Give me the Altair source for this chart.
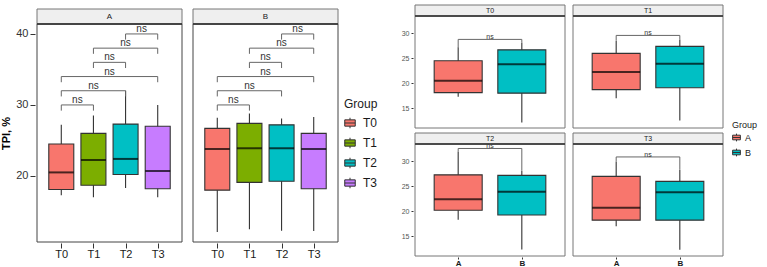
import altair as alt
import pandas as pd

# ---------------- data ----------------
times = ["T0", "T1", "T2", "T3"]
groups = ["A", "B"]
time_colors = ["#F8766D", "#7CAE00", "#00BFC4", "#C77CFF"]
group_colors = ["#F8766D", "#00BFC4"]

# box statistics per time (T0..T3) for group A and group B
a_lower = [17.3, 17.0, 18.3, 17.0]
a_q1 = [18.1, 18.7, 20.2, 18.2]
a_median = [20.5, 22.25, 22.4, 20.7]
a_q3 = [24.5, 26.0, 27.3, 27.0]
a_upper = [27.2, 28.5, 32.0, 30.0]

b_lower = [12.1, 12.5, 12.3, 12.25]
b_q1 = [18.0, 19.1, 19.25, 18.2]
b_median = [23.8, 23.9, 23.9, 23.8]
b_q3 = [26.7, 27.4, 27.2, 26.0]
b_upper = [28.2, 28.8, 28.1, 28.3]

# pairwise comparisons between times (left chart)
pair_start = ["T0", "T0", "T0", "T1", "T1", "T2"]
pair_end = ["T1", "T2", "T3", "T2", "T3", "T3"]
pair_level = [30, 32, 34, 36, 38, 40]
pair_label = ["ns", "ns", "ns", "ns", "ns", "ns"]

# A vs B comparison inside each time (right chart)
ab_level = [28.8, 29.6, 32.6, 30.9]
ab_label = ["ns", "ns", "ns", "ns"]

# ---------------- tables ----------------
stats = {
    "A": (a_lower, a_q1, a_median, a_q3, a_upper),
    "B": (b_lower, b_q1, b_median, b_q3, b_upper),
}
box_rows = []
for g in groups:
    lo, q1, md, q3, up = stats[g]
    for i, t in enumerate(times):
        box_rows.append(dict(group=g, time=t, ti=i + 1, gi=groups.index(g) + 1,
                             lower=lo[i], q1=q1[i], median=md[i], q3=q3[i], upper=up[i]))

LEG = 0.8
left_rows = []
for r in box_rows:
    left_rows.append(dict(kind="box", panel=r["group"], x=r["ti"], time=r["time"],
                          lower=r["lower"], q1=r["q1"], median=r["median"], q3=r["q3"], upper=r["upper"]))
for g in groups:
    left_rows.append(dict(kind="strip", panel=g))
    for s, e, lev, lab in zip(pair_start, pair_end, pair_level, pair_label):
        xs, xe = times.index(s) + 1, times.index(e) + 1
        left_rows.append(dict(kind="hbar", panel=g, x=xs, x2=xe, y=lev))
        left_rows.append(dict(kind="leg", panel=g, x=xs, y=lev, y2=lev - LEG))
        left_rows.append(dict(kind="leg", panel=g, x=xe, y=lev, y2=lev - LEG))
        left_rows.append(dict(kind="lab", panel=g, x=(xs + xe) / 2, y=lev, text=lab))
left_df = pd.DataFrame(left_rows)

right_rows = []
for r in box_rows:
    right_rows.append(dict(kind="box", panel=r["time"], x=r["gi"], group=r["group"],
                           lower=r["lower"], q1=r["q1"], median=r["median"], q3=r["q3"], upper=r["upper"]))
for i, t in enumerate(times):
    right_rows.append(dict(kind="strip", panel=t))
    lev = ab_level[i]
    right_rows.append(dict(kind="hbar", panel=t, x=1, x2=2, y=lev))
    for gi, g in enumerate(groups):
        right_rows.append(dict(kind="leg", panel=t, x=gi + 1, y=lev, y2=stats[g][4][i]))
    right_rows.append(dict(kind="lab", panel=t, x=1.5, y=lev, text=ab_label[i]))
right_df = pd.DataFrame(right_rows)
# wrap the four time panels into a 2 x 2 grid
right_df["prow"] = right_df["panel"].map(lambda p: times.index(p) // 2)
right_df["pcol"] = right_df["panel"].map(lambda p: times.index(p) % 2)

FONT = "Liberation Sans"
BOX_PATH = "M-1,-0.6L1,-0.6L1,0.6L-1,0.6Z M-1,0L1,0 M0,-0.6L0,-1 M0,0.6L0,1"


def label_expr(cats):
    arr = "[" + ",".join("'%s'" % c for c in cats) + "]"
    return arr + "[datum.value - 1]"


def build(cats, color_field, color_dom, color_rng, W, H, top_off, strip_h, box_w,
          ydom, yvals, ytitle, tick_fs, xlab_fs, strip_fs, ns_fs, ns_dy,
          border_color, legend, tick_color, xlab_weight, xlab_pad, tick_len):
    # the cell holds the strip (top) and the panel (below it)
    panel_top = top_off + strip_h
    xs = alt.Scale(domain=[0.4, len(cats) + 0.6], nice=False, zero=False)
    ys = alt.Scale(domain=ydom, nice=False, zero=False, range=[H, panel_top])
    xax = alt.Axis(values=list(range(1, len(cats) + 1)), labelExpr=label_expr(cats),
                   title=None, grid=False, domain=False, tickColor="#333333", tickSize=tick_len,
                   labelFont=FONT, labelFontSize=xlab_fs, labelColor="#1a1a1a",
                   labelPadding=xlab_pad, labelFontWeight=xlab_weight)
    yax = alt.Axis(values=yvals, grid=False, domain=False, tickColor="#333333", tickSize=tick_len,
                   labelFont=FONT, labelFontSize=tick_fs, labelColor=tick_color, labelPadding=2,
                   titleFont=FONT, titleFontSize=11, titleFontWeight="bold", titleColor="#000000",
                   titlePadding=4)
    X = alt.X("x:Q", scale=xs, axis=xax)

    def Y(f):
        return alt.Y(f + ":Q", scale=ys, axis=yax, title=ytitle)

    base = alt.Chart()
    whisk = base.mark_rule(color="#333333", strokeWidth=1.1).encode(
        x=X, y=Y("lower"), y2="upper:Q").transform_filter("datum.kind == 'box'")
    box = base.mark_bar(size=box_w, stroke="#333333", strokeWidth=1.1).encode(
        x=X, y=Y("q1"), y2="q3:Q",
        color=alt.Color(color_field + ":N", scale=alt.Scale(domain=color_dom, range=color_rng),
                        legend=legend)).transform_filter("datum.kind == 'box'")
    med = base.mark_tick(color="#000000", thickness=2, size=box_w, orient="horizontal").encode(
        x=X, y=Y("median")).transform_filter("datum.kind == 'box'")
    hbar = base.mark_rule(color="#666666", strokeWidth=1).encode(
        x=X, x2="x2:Q", y=Y("y")).transform_filter("datum.kind == 'hbar'")
    legs = base.mark_rule(color="#666666", strokeWidth=1).encode(
        x=X, y=Y("y"), y2="y2:Q").transform_filter("datum.kind == 'leg'")
    labs = base.mark_text(font=FONT, fontSize=ns_fs, color="#333333", baseline="bottom",
                          dy=ns_dy).encode(
        x=X, y=Y("y"), text="text:N").transform_filter("datum.kind == 'lab'")
    strip = base.mark_rect(fill="#EFEFEF", stroke="#777777", strokeWidth=1).encode(
        x=alt.value(0), x2=alt.value(W), y=alt.value(top_off), y2=alt.value(panel_top)
    ).transform_filter("datum.kind == 'strip'")
    border = base.mark_rect(fillOpacity=0, stroke=border_color, strokeWidth=1).encode(
        x=alt.value(0), x2=alt.value(W), y=alt.value(panel_top), y2=alt.value(H)
    ).transform_filter("datum.kind == 'strip'")
    strip_line = base.mark_rule(color="#333333", strokeWidth=1.5).encode(
        x=alt.value(0), x2=alt.value(W), y=alt.value(panel_top)
    ).transform_filter("datum.kind == 'strip'")
    strip_txt = base.mark_text(font=FONT, fontSize=strip_fs, color="#1a1a1a").encode(
        x=alt.value(W / 2), y=alt.value(top_off + strip_h / 2), text="panel:N"
    ).transform_filter("datum.kind == 'strip'")
    return alt.layer(whisk, box, med, hbar, legs, labs, strip, border, strip_line,
                     strip_txt).properties(
        width=W, height=H, view=alt.ViewBackground(stroke="transparent", fill="transparent"))


NOHEAD = alt.Header(labels=False, labelPadding=0, titlePadding=0)

left_legend = alt.Legend(title="Group", orient="none", legendX=307, legendY=94,
                         symbolType=BOX_PATH, symbolSize=110, symbolStrokeColor="#333333",
                         symbolStrokeWidth=1, titleFont=FONT, titleFontSize=12,
                         titleFontWeight="normal", titleColor="#1a1a1a",
                         labelFont=FONT, labelFontSize=12, labelColor="#1a1a1a",
                         rowPadding=4, titlePadding=6, labelOffset=7)
left_layer = build(times, "time", times, time_colors, 145, 237, 4, 15, 25,
                   [10.7, 41.4], [20, 30, 40], "TPI, %", 11, 11, 8, 10, 0,
                   "#444444", left_legend, "#333333", "normal", 0, 5)
left = left_layer.facet(
    column=alt.Column("panel:N", sort=groups, title=None, header=NOHEAD),
    data=left_df, spacing=7)

right_legend = alt.Legend(title="Group", orient="none", legendX=317, legendY=116,
                          symbolType=BOX_PATH, symbolSize=60, symbolStrokeColor="#333333",
                          symbolStrokeWidth=1, titleFont=FONT, titleFontSize=9,
                          titleFontWeight="normal", titleColor="#1a1a1a",
                          labelFont=FONT, labelFontSize=9, labelColor="#1a1a1a",
                          rowPadding=2, titlePadding=3)
right_layer = build(groups, "group", groups, group_colors, 150, 123, 0, 11, 48,
                    [11, 33.5], [15, 20, 25, 30], "", 7, 8, 7, 7, 1,
                    "#777777", right_legend, "#555555", "bold", 0, 2)
right = right_layer.facet(
    row=alt.Row("prow:O", title=None, header=NOHEAD),
    column=alt.Column("pcol:O", title=None, header=NOHEAD),
    data=right_df, spacing={"row": 3, "column": 4})

chart = alt.hconcat(left, right, spacing=23).resolve_scale(color="independent").properties(
    padding={"left": 0, "top": 4, "right": 0, "bottom": 0}, background="white"
).configure_view(stroke="transparent")

chart.save("out.html", embed_options={"renderer": "svg", "actions": False})
